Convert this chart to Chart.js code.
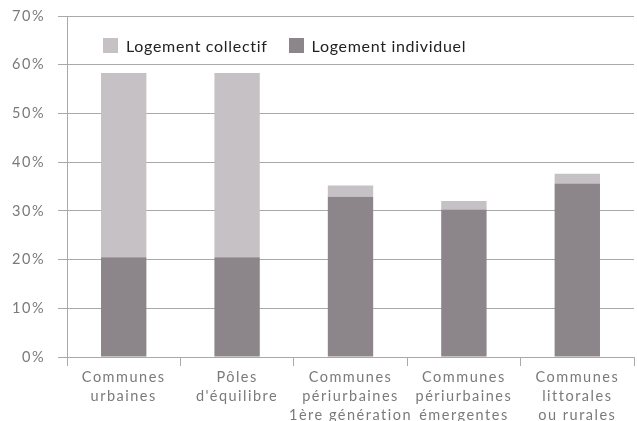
<!DOCTYPE html>
<html>
<head>
<meta charset="utf-8">
<script src="https://cdn.jsdelivr.net/npm/chart.js@4/dist/chart.umd.min.js"></script>
<style>
  html, body { margin: 0; padding: 0; background: #fff; }
  #wrap { position: relative; width: 637px; height: 421px; }
  #legend { position: absolute; left: 103px; top: 36px; font: 16px Lato, sans-serif; letter-spacing: 0.7px; color: #222; display: flex; align-items: center; }
  #legend span.box { display: inline-block; width: 15px; height: 15px; margin-right: 8px; }
  #legend span.item { display: flex; align-items: center; margin-right: 21px; }
</style>
</head>
<body>
<div id="wrap">
  <canvas id="myChart" width="637" height="421"></canvas>
  <div id="legend"></div>
</div>
<script>
const labels = [
    ['Communes', 'urbaines'],
    ['Pôles', "d'équilibre"],
    ['Communes', 'périurbaines', '1ère génération'],
    ['Communes', 'périurbaines', 'émergentes'],
    ['Communes', 'littorales', 'ou rurales']
];
const individuel = [20.5, 20.5, 32.9, 30.3, 35.6];
const collectif = [37.8, 37.8, 2.3, 1.7, 2.0];
const yTicks = [0, 10, 20, 30, 40, 50, 60, 70];

const lightGrey = '#c5c1c4';
const darkGrey = '#8c8589';
const lineGrey = '#a9a9a9';

// legend drawn as html, collectif first
const legendItems = [['Logement collectif', lightGrey], ['Logement individuel', darkGrey]];
document.getElementById('legend').innerHTML = legendItems.map((it) =>
    `<span class="item"><span class="box" style="background:${it[1]}"></span>${it[0]}</span>`
).join('');

// spaced-out axis labels
const spacing = {
    id: 'spacing',
    beforeDraw: (chart) => { chart.ctx.letterSpacing = '1.5px'; },
    afterDraw: (chart) => { chart.ctx.letterSpacing = '0px'; }
};

const ctx = document.getElementById('myChart').getContext('2d');
const data = {
    labels,
    datasets: [
        {
            label: 'Logement individuel',
            data: individuel,
            backgroundColor: darkGrey,
            barPercentage: 0.8,
            categoryPercentage: 0.5
        },
        {
            label: 'Logement collectif',
            data: collectif,
            backgroundColor: lightGrey,
            barPercentage: 0.8,
            categoryPercentage: 0.5
        }
    ]
};
const config = {
    type: 'bar',
    data: data,
    plugins: [spacing],
    options: {
        responsive: false,
        animation: false,
        layout: { padding: { left: 0, right: 3, top: 16, bottom: 0 } },
        plugins: { legend: { display: false }, tooltip: { enabled: false } },
        scales: {
            x: {
                stacked: true,
                grid: { drawOnChartArea: false, tickLength: 9, color: lineGrey, offset: true },
                border: { color: lineGrey },
                ticks: {
                    color: '#7a7a7a',
                    font: { family: 'Lato', size: 14.5, lineHeight: 1.3 },
                    padding: 2,
                    maxRotation: 0,
                    autoSkip: false
                },
                afterFit: (scale) => { scale.height = 64; scale.paddingLeft = 0; scale.paddingRight = 0; }
            },
            y: {
                stacked: true,
                min: 0,
                max: 70,
                afterBuildTicks: (scale) => { scale.ticks = yTicks.map((v) => ({ value: v })); },
                grid: { tickLength: 9, color: lineGrey },
                border: { color: lineGrey },
                ticks: {
                    color: '#7a7a7a',
                    font: { family: 'Lato', size: 14.5 },
                    padding: 13,
                    callback: (v) => v + '%'
                },
                afterFit: (scale) => { scale.width = 67; scale.paddingTop = 0; scale.paddingBottom = 0; }
            }
        }
    }
};
const mychart = new Chart(ctx, config);
</script>
</body>
</html>
